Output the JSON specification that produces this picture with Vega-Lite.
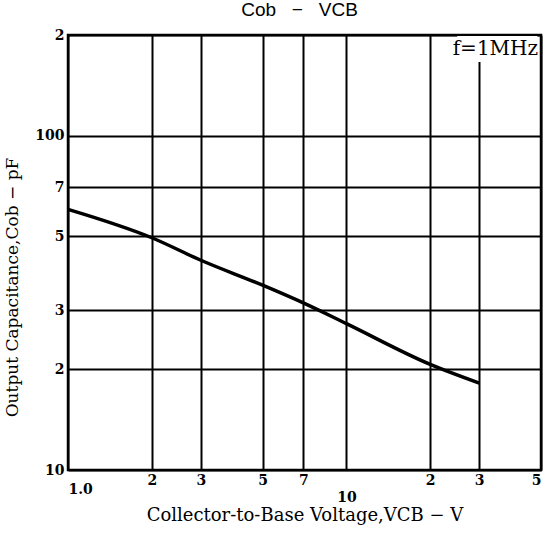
{
  "$schema": "https://vega.github.io/schema/vega-lite/v6.json",
  "autosize": "none",
  "width": 473,
  "height": 435,
  "padding": {"left": 68, "top": 35, "right": 2, "bottom": 63},
  "background": "white",
  "config": {
    "view": {"stroke": "black", "strokeWidth": 2.5},
    "font": "DejaVu Serif"
  },
  "title": {
    "text": "Cob\u00a0\u00a0\u00a0−\u00a0\u00a0\u00a0VCB",
    "font": "Liberation Sans",
    "fontSize": 19,
    "fontWeight": "normal",
    "color": "black",
    "anchor": "middle",
    "dx": -5,
    "offset": 8
  },
  "layer": [
    {
      "data": {"values": [{"x1": 25, "x2": 48.5, "y1": 166, "y2": 198.5}]},
      "mark": {"type": "rect", "fill": "white", "stroke": null},
      "encoding": {
        "x": {"field": "x1", "type": "quantitative", "scale": {"type": "log", "domain": [1, 50], "nice": false}},
        "x2": {"field": "x2"},
        "y": {"field": "y1", "type": "quantitative", "scale": {"type": "log", "domain": [10, 200], "nice": false}},
        "y2": {"field": "y2"}
      }
    },
    {
      "data": {"values": [
        {"v": 1, "c": 60.2},
        {"v": 2, "c": 49.5},
        {"v": 3, "c": 42.4},
        {"v": 5, "c": 35.7},
        {"v": 7, "c": 31.6},
        {"v": 10, "c": 27.4},
        {"v": 20, "c": 20.7},
        {"v": 30, "c": 18.2}
      ]},
      "mark": {"type": "line", "color": "black", "strokeWidth": 3.5, "interpolate": "monotone"},
      "encoding": {
        "x": {
          "field": "v", "type": "quantitative",
          "scale": {"type": "log", "domain": [1, 50], "nice": false},
          "axis": {
            "values": [1, 2, 3, 5, 7, 10, 20, 30, 50],
            "labelExpr": "datum.value == 1 ? '1.0' : datum.value == 10 ? '10' : toString(datum.value)[0]",
            "title": "Collector-to-Base Voltage,VCB − V",
            "titleFont": "DejaVu Serif",
            "titleFontSize": 18,
            "titleFontWeight": "normal",
            "titleColor": "black",
            "titlePadding": 2,
            "labelFont": "DejaVu Serif",
            "labelFontSize": 14,
            "labelFontWeight": "bold",
            "labelColor": "black",
            "labelPadding": {"condition": [{"test": "datum.value == 10", "value": 20}, {"test": "datum.value == 1", "value": 12}], "value": 3},
            "ticks": false,
            "domain": false,
            "grid": true,
            "gridColor": "black",
            "gridWidth": 2,
            "gridOpacity": 1
          }
        },
        "y": {
          "field": "c", "type": "quantitative",
          "scale": {"type": "log", "domain": [10, 200], "nice": false},
          "axis": {
            "values": [10, 20, 30, 50, 70, 100, 200],
            "labelExpr": "datum.value == 10 ? '10' : datum.value == 100 ? '100' : toString(datum.value)[0]",
            "title": "Output Capacitance,Cob − pF",
            "titleFont": "DejaVu Serif",
            "titleFontSize": 17,
            "titleFontWeight": "normal",
            "titleColor": "black",
            "titleAnchor": "middle",
            "titleY": 252,
            "titleX": -47,
            "labelFont": "DejaVu Serif",
            "labelFontSize": 14,
            "labelFontWeight": "bold",
            "labelColor": "black",
            "labelPadding": 4,
            "ticks": false,
            "domain": false,
            "grid": true,
            "gridColor": "black",
            "gridWidth": 2,
            "gridOpacity": 1
          }
        }
      }
    },
    {
      "data": {"values": [{"v": 48.8, "c": 195, "t": "f=1MHz"}]},
      "mark": {"type": "text", "align": "right", "baseline": "top", "font": "DejaVu Serif", "fontSize": 20, "color": "black"},
      "encoding": {
        "x": {"field": "v", "type": "quantitative"},
        "y": {"field": "c", "type": "quantitative"},
        "text": {"field": "t"}
      }
    }
  ]
}
